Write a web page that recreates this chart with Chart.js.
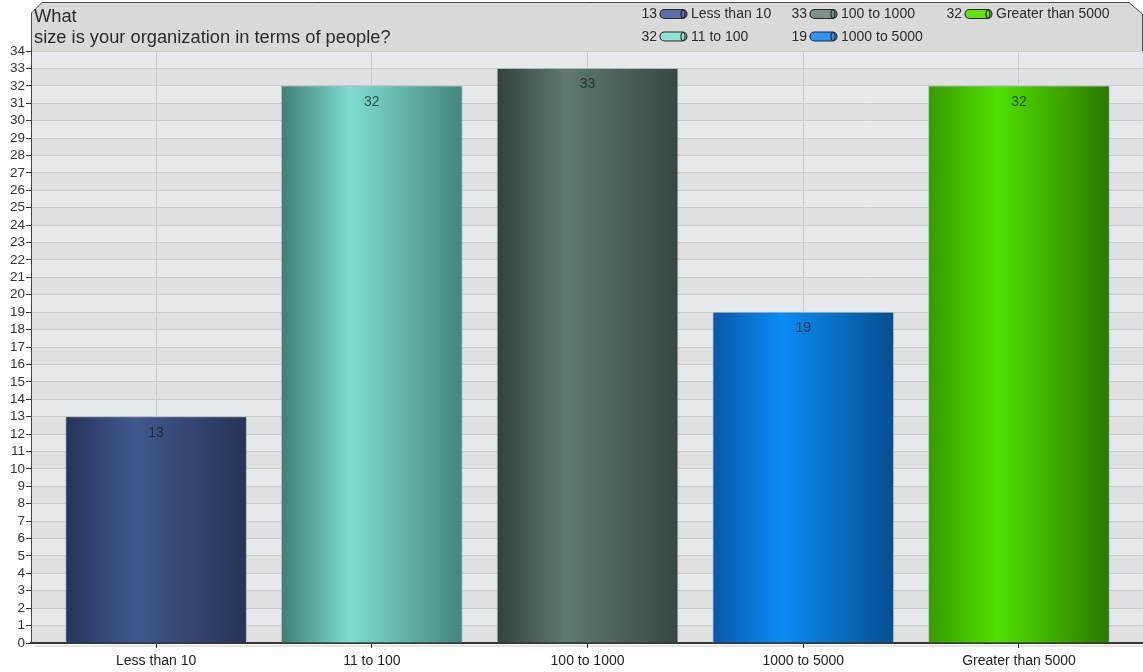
<!DOCTYPE html>
<html>
<head>
<meta charset="utf-8">
<script src="https://cdn.jsdelivr.net/npm/chart.js@4/dist/chart.umd.min.js"></script>
<style>
  body { margin: 0; background: #fff; }
  canvas { display: block; }
</style>
</head>
<body>
<canvas id="chart1" width="1143" height="672"></canvas>
<script>
// data
var categories = ['Less than 10', '11 to 100', '100 to 1000', '1000 to 5000', 'Greater than 5000'];
var values = [13, 32, 33, 19, 32];
var titleLines = ['What', 'size is your organization in terms of people?'];
var yMax = 34;

// left edge, highlight, right edge
var barColors = [
    ['#26345a', '#41588f', '#273455'],
    ['#3f7e74', '#7edcd0', '#44877c'],
    ['#34423d', '#5d7a72', '#384742'],
    ['#0858ab', '#0b8cf5', '#06508f'],
    ['#389a00', '#50e000', '#2c7800']
];
var iconColors = ['#5a6ea6', '#8fe2d6', '#7c908a', '#2b96f6', '#62e214'];

var FONT = 'Arial, "Liberation Sans", sans-serif';

var decor = {
    id: 'decor',
    beforeDraw: function (chart) {
        var ctx = chart.ctx;
        var a = chart.chartArea;
        var y = chart.scales.y;
        ctx.save();
        ctx.fillStyle = '#fff';
        ctx.fillRect(0, 0, chart.width, chart.height);

        // header box
        ctx.beginPath();
        ctx.moveTo(31.5, 13);
        ctx.lineTo(42, 2.5);
        ctx.lineTo(1129, 2.5);
        ctx.lineTo(1142.5, 14);
        ctx.lineTo(1142.5, 51.5);
        ctx.lineTo(31.5, 51.5);
        ctx.closePath();
        ctx.fillStyle = '#d9d9d9';
        ctx.fill();
        ctx.strokeStyle = '#4a4a4a';
        ctx.lineWidth = 1;
        ctx.stroke();

        ctx.fillStyle = '#2b2b2b';
        ctx.font = '18.3px ' + FONT;
        ctx.textBaseline = 'alphabetic';
        ctx.textAlign = 'left';
        ctx.fillText(titleLines[0], 34, 22);
        ctx.fillText(titleLines[1], 34, 43);

        // legend
        var colX = [659, 809, 964];
        var rowY = [14.5, 37];
        ctx.font = '14px ' + FONT;
        ctx.textBaseline = 'middle';
        for (var i = 0; i < categories.length; i++) {
            var ix = colX[Math.floor(i / 2)];
            var iy = rowY[i % 2];
            ctx.fillStyle = '#2b2b2b';
            ctx.textAlign = 'right';
            ctx.fillText(String(values[i]), ix - 2, iy);
            ctx.textAlign = 'left';
            ctx.fillText(categories[i], ix + 32, iy);
            // cylinder icon
            ctx.beginPath();
            ctx.roundRect(ix + 1, iy - 5, 27, 9, 4.5);
            ctx.fillStyle = iconColors[i];
            ctx.fill();
            ctx.strokeStyle = '#2a2a2a';
            ctx.lineWidth = 1.2;
            ctx.stroke();
            ctx.beginPath();
            ctx.ellipse(ix + 24, iy - 0.5, 2, 4, 0, 0, Math.PI * 2);
            ctx.stroke();
        }

        // alternating bands
        for (var v = 0; v < yMax; v++) {
            var top = y.getPixelForValue(v + 1);
            var bot = y.getPixelForValue(v);
            ctx.fillStyle = v % 2 === 1 ? '#e6e9ec' : '#dfe0e2';
            ctx.fillRect(a.left, top, a.right - a.left, bot - top);
        }
        ctx.restore();
    },
    afterDatasetsDraw: function (chart) {
        var ctx = chart.ctx;
        var meta = chart.getDatasetMeta(0);
        ctx.save();
        ctx.font = '14px ' + FONT;
        ctx.fillStyle = 'rgba(25,25,25,0.72)';
        ctx.textAlign = 'center';
        ctx.textBaseline = 'middle';
        meta.data.forEach(function (bar, i) {
            ctx.fillText(String(values[i]), bar.x, bar.y + 16);
        });
        // faint shadow under the base line
        ctx.strokeStyle = 'rgba(0,0,0,0.10)';
        ctx.lineWidth = 2;
        ctx.beginPath();
        ctx.moveTo(chart.chartArea.left + 4, chart.chartArea.bottom + 3);
        ctx.lineTo(chart.chartArea.right, chart.chartArea.bottom + 3);
        ctx.stroke();
        ctx.restore();
    }
};

var ctx = document.getElementById('chart1').getContext('2d');
var barChart = new Chart(ctx, {
    type: 'bar',
    data: {
        datasets: [{
            data: values.map(function (v, i) { return { x: i, y: v }; }),
            barThickness: 181,
            borderWidth: { top: 1, left: 1, right: 1, bottom: 0 },
            borderColor: 'rgba(170,180,185,0.85)',
            borderSkipped: 'bottom',
            backgroundColor: function (c) {
                var i = c.dataIndex || 0;
                var xs = c.chart.scales.x;
                if (!xs || !c.chart.chartArea) return barColors[i][1];
                var cx = xs.getPixelForValue(i);
                var g = c.chart.ctx.createLinearGradient(cx - 90.5, 0, cx + 90.5, 0);
                g.addColorStop(0, barColors[i][0]);
                g.addColorStop(0.38, barColors[i][1]);
                g.addColorStop(1, barColors[i][2]);
                return g;
            }
        }]
    },
    options: {
        responsive: false,
        animation: false,
        layout: { padding: { top: 51, left: 0, right: 0, bottom: 0 } },
        plugins: {
            legend: { display: false },
            tooltip: { enabled: false }
        },
        scales: {
            x: {
                type: 'linear',
                min: -0.58,
                max: 4.575,
                offset: false,
                afterBuildTicks: function (scale) {
                    scale.ticks = categories.map(function (c, i) { return { value: i }; });
                },
                afterFit: function (scale) { scale.height = 29; },
                ticks: {
                    color: '#222',
                    font: { size: 14, family: FONT },
                    padding: 5,
                    maxRotation: 0,
                    autoSkip: false,
                    callback: function (v) { return categories[v]; }
                },
                grid: {
                    offset: false,
                    color: '#c9cacd',
                    tickColor: '#333',
                    tickLength: 5
                },
                border: { color: '#333', width: 2 }
            },
            y: {
                min: 0,
                max: yMax,
                afterFit: function (scale) { scale.width = 31; },
                ticks: {
                    stepSize: 1,
                    autoSkip: false,
                    color: '#333',
                    font: { size: 13.5, family: FONT },
                    padding: 1
                },
                grid: {
                    color: '#cbcccf',
                    tickColor: '#333',
                    tickLength: 5
                },
                border: { color: '#444', width: 1 }
            }
        }
    },
    plugins: [decor]
});
</script>
</body>
</html>
